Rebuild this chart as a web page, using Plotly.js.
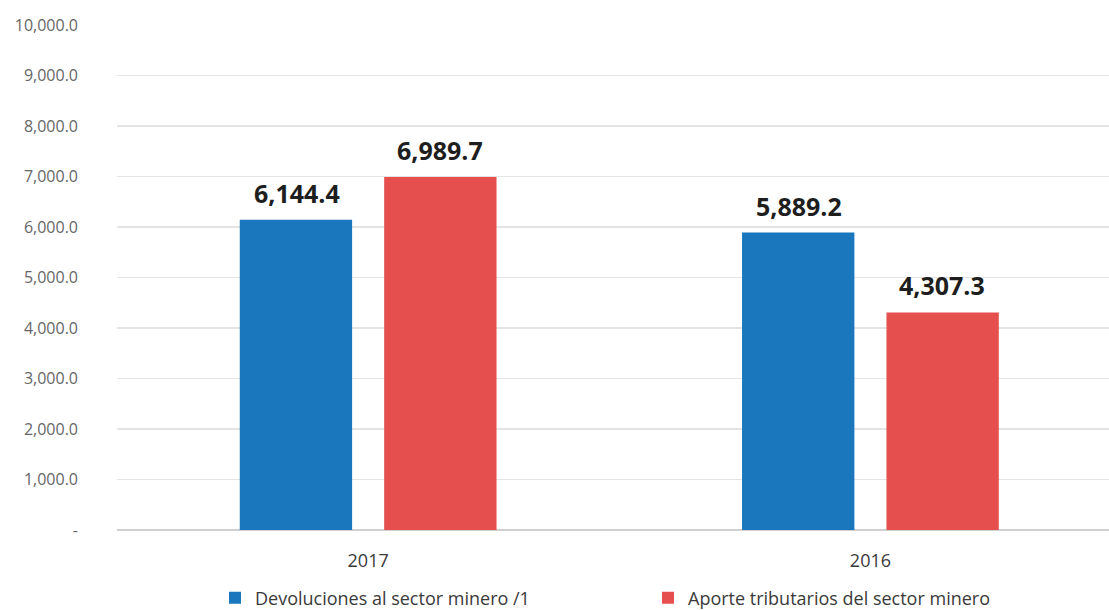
<!DOCTYPE html>
<html>
<head>
<meta charset="utf-8">
<script src="https://cdn.plot.ly/plotly-3.0.1.min.js"></script>
<style>html,body{margin:0;padding:0;background:#fff;}#chart{width:1109px;height:610px;}</style>
</head>
<body>
<div id="chart"></div>
<script>
const categories = ["2017", "2016"];
const seriesNames = ["Devoluciones al sector minero /1", "Aporte tributarios del sector minero"];
const devoluciones = [6144.4, 5889.2];
const aporte = [6989.7, 4307.3];
const valueLabels = [["6,144.4", "5,889.2"], ["6,989.7", "4,307.3"]];
const yTickVals = [0, 1000, 2000, 3000, 4000, 5000, 6000, 7000, 8000, 9000, 10000];
const yTickText = ["-", "1,000.0", "2,000.0", "3,000.0", "4,000.0", "5,000.0", "6,000.0", "7,000.0", "8,000.0", "9,000.0", "10,000.0"];
const colors = ["#1a76bd", "#e5504e"];

const FONT = "'Open Sans', sans-serif";
const legendNames = ["legend", "legend2"];

const traces = [devoluciones, aporte].map((vals, i) => ({
  type: "bar",
  name: seriesNames[i],
  x: categories,
  y: vals,
  marker: {color: colors[i]},
  legend: legendNames[i],
  hoverinfo: "skip"
}));

const offsets = [-71, 72];
const annotations = [];
[devoluciones, aporte].forEach((vals, i) => {
  vals.forEach((v, j) => {
    annotations.push({
      x: j, y: v, xref: "x", yref: "y",
      text: "<b>" + valueLabels[i][j] + "</b>", showarrow: false, xshift: offsets[i], yshift: 8,
      yanchor: "bottom", xanchor: "center",
      font: {family: FONT, size: 25, color: "#1e1e1e"}
    });
  });
});

const legendBase = {
  orientation: "h", xref: "container", yref: "container",
  xanchor: "left", yanchor: "middle", itemwidth: 30,
  font: {family: FONT, size: 18, color: "#3a3a3a"},
  bgcolor: "rgba(0,0,0,0)"
};

const layout = {
  width: 1109, height: 610,
  margin: {l: 117, r: 0, t: 25, b: 80, autoexpand: false},
  paper_bgcolor: "#ffffff", plot_bgcolor: "#ffffff",
  barmode: "group",
  bargap: 0.425,
  bargroupgap: 0.222,
  showlegend: true,
  legend: Object.assign({}, legendBase, {x: 215 / 1109, y: 1 - 598 / 610}),
  legend2: Object.assign({}, legendBase, {x: 648 / 1109, y: 1 - 598 / 610}),
  xaxis: {
    type: "category",
    range: [-0.5, 1.475],
    showgrid: false, zeroline: false, showline: false,
    ticks: "", ticklabelstandoff: 18,
    tickfont: {family: FONT, size: 18, color: "#3a3a3a"}
  },
  yaxis: {
    range: [0, 10000],
    tickvals: yTickVals, ticktext: yTickText,
    showgrid: true, gridcolor: "#e4e4e4", gridwidth: 1.5,
    zeroline: true, zerolinecolor: "#d0d0d0", zerolinewidth: 1.5,
    showline: false, ticks: "",
    ticklabelstandoff: 38,
    tickfont: {family: FONT, size: 16, color: "#666666"}
  },
  annotations: annotations
};

Plotly.newPlot("chart", traces, layout, {displayModeBar: false, staticPlot: true});
</script>
</body>
</html>
